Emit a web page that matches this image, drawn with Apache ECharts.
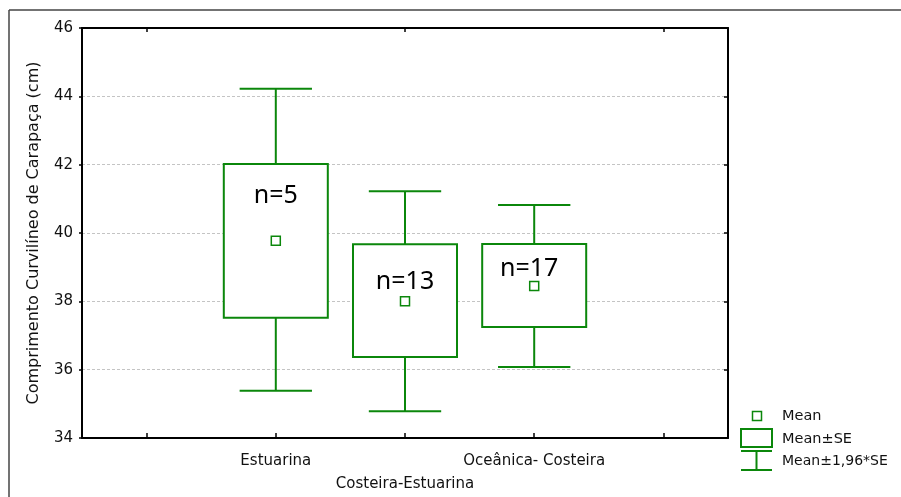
<!DOCTYPE html>
<html>
<head>
<meta charset="utf-8">
<script src="https://cdn.jsdelivr.net/npm/echarts@6/dist/echarts.min.js"></script>
<style>
  html, body { margin: 0; padding: 0; background: #fff; }
  #chart { width: 901px; height: 497px; }
</style>
</head>
<body>
<div id="chart"></div>
<script>
// Carapace length by habitat group: mean, mean±SE and mean±1.96*SE
const categories = ['', 'Estuarina', 'Costeira-Estuarina', 'Oceânica- Costeira', ''];
const groups = ['Estuarina', 'Costeira-Estuarina', 'Oceânica- Costeira'];
const means = [39.77, 38.0, 38.45];
const seLow = [37.52, 36.37, 37.25];
const seHigh = [42.02, 39.67, 39.68];
const ciLow = [35.38, 34.78, 36.08];
const ciHigh = [44.22, 41.22, 40.82];
const nLabels = ['n=5', 'n=13', 'n=17'];
const nLabelY = [41.08, 38.57, 38.95];
const yTicks = [34, 36, 38, 40, 42, 44, 46];

const GREEN = '#0b870b';
const FONT = 'DejaVu Sans';

const chart = echarts.init(document.getElementById('chart'));

const boxData = groups.map((g, i) => [g, ciLow[i], seLow[i], seHigh[i], ciHigh[i]]);

function renderBox(params, api) {
  const x = api.value(0);
  const pLow = api.coord([x, api.value(1)]);
  const pBoxLow = api.coord([x, api.value(2)]);
  const pBoxHigh = api.coord([x, api.value(3)]);
  const pHigh = api.coord([x, api.value(4)]);
  const band = api.size([1, 0])[0];
  const boxW = band * 0.805;
  const capW = band * 0.56;
  const cx = pLow[0];
  const lineStyle = { stroke: GREEN, lineWidth: 2, fill: null };
  return {
    type: 'group',
    children: [
      { type: 'line', shape: { x1: cx, y1: pHigh[1], x2: cx, y2: pBoxHigh[1] }, style: lineStyle },
      { type: 'line', shape: { x1: cx, y1: pLow[1], x2: cx, y2: pBoxLow[1] }, style: lineStyle },
      { type: 'line', shape: { x1: cx - capW / 2, y1: pHigh[1], x2: cx + capW / 2, y2: pHigh[1] }, style: lineStyle },
      { type: 'line', shape: { x1: cx - capW / 2, y1: pLow[1], x2: cx + capW / 2, y2: pLow[1] }, style: lineStyle },
      {
        type: 'rect',
        shape: { x: cx - boxW / 2, y: pBoxHigh[1], width: boxW, height: pBoxLow[1] - pBoxHigh[1] },
        style: { fill: '#fff', stroke: GREEN, lineWidth: 2 }
      }
    ]
  };
}

const option = {
  animation: false,
  backgroundColor: '#fff',
  textStyle: { fontFamily: FONT },
  grid: { left: 82, right: 173, top: 28, bottom: 59, show: false },
  xAxis: [
    {
      type: 'category',
      data: categories,
      position: 'bottom',
      axisLine: { show: true, lineStyle: { color: '#000', width: 2 } },
      axisTick: { show: true, inside: true, alignWithLabel: true, length: 5, lineStyle: { color: '#000', width: 1.5 } },
      axisLabel: {
        interval: 0, margin: 12, color: '#111', fontSize: 15, lineHeight: 23, fontFamily: FONT,
        formatter: (v, i) => (i === 2 ? '\n' + v : v)
      },
      splitLine: { show: false }
    },
    {
      type: 'category',
      data: categories,
      position: 'top',
      axisLine: { show: true, lineStyle: { color: '#000', width: 2 } },
      axisTick: { show: true, inside: true, alignWithLabel: true, length: 4, lineStyle: { color: '#000', width: 1.5 } },
      axisLabel: { show: false },
      splitLine: { show: false }
    }
  ],
  yAxis: [
    {
      type: 'value',
      min: yTicks[0],
      max: yTicks[yTicks.length - 1],
      interval: 2,
      name: 'Comprimento Curvilíneo de Carapaça (cm)',
      nameLocation: 'middle',
      nameGap: 40,
      nameTextStyle: { color: '#111', fontSize: 16, fontFamily: FONT },
      axisLine: { show: true, lineStyle: { color: '#000', width: 2 } },
      axisTick: { show: true, length: 3, lineStyle: { color: '#000', width: 1.5 } },
      axisLabel: { color: '#111', fontSize: 15, margin: 9, fontFamily: FONT },
      splitLine: { show: true, lineStyle: { color: '#c4c4c4', type: [3, 2], width: 1 } }
    },
    {
      type: 'value',
      min: yTicks[0],
      max: yTicks[yTicks.length - 1],
      interval: 2,
      position: 'right',
      axisLine: { show: true, lineStyle: { color: '#000', width: 2 } },
      axisTick: { show: true, inside: true, length: 4, lineStyle: { color: '#000', width: 1.5 } },
      axisLabel: { show: false },
      splitLine: { show: false }
    }
  ],
  series: [
    {
      type: 'custom',
      name: 'Mean±SE',
      renderItem: renderBox,
      data: boxData,
      encode: { x: 0, y: [1, 2, 3, 4] },
      z: 2
    },
    {
      type: 'scatter',
      name: 'Mean',
      data: groups.map((g, i) => [g, means[i]]),
      symbol: 'rect',
      symbolSize: 9,
      itemStyle: { color: '#fff', borderColor: GREEN, borderWidth: 1.5, opacity: 1 },
      z: 4
    },
    {
      type: 'scatter',
      name: 'n',
      data: groups.map((g, i) => ({
        value: [g, nLabelY[i]],
        label: i === 2 ? { offset: [-5, 0] } : {}
      })),
      symbolSize: 0,
      itemStyle: { opacity: 1 },
      label: {
        show: true,
        position: 'inside',
        formatter: (p) => nLabels[p.dataIndex],
        color: '#000',
        fontSize: 25,
        fontFamily: 'Noto Sans'
      },
      z: 5
    }
  ],
  graphic: [
    // outer frame edges
    { type: 'line', shape: { x1: 9, y1: 10, x2: 9, y2: 497 }, style: { stroke: '#444', lineWidth: 1.5 } },
    { type: 'line', shape: { x1: 9, y1: 10, x2: 901, y2: 10 }, style: { stroke: '#444', lineWidth: 1.5 } },
    // legend
    { type: 'rect', shape: { x: 752.5, y: 411.5, width: 9, height: 9 }, style: { fill: '#fff', stroke: GREEN, lineWidth: 1.5 } },
    { type: 'rect', shape: { x: 741, y: 429, width: 31, height: 18 }, style: { fill: '#fff', stroke: GREEN, lineWidth: 2 } },
    { type: 'line', shape: { x1: 741, y1: 451, x2: 772, y2: 451 }, style: { stroke: GREEN, lineWidth: 2 } },
    { type: 'line', shape: { x1: 741, y1: 470, x2: 772, y2: 470 }, style: { stroke: GREEN, lineWidth: 2 } },
    { type: 'line', shape: { x1: 756.5, y1: 451, x2: 756.5, y2: 470 }, style: { stroke: GREEN, lineWidth: 2 } },
    { type: 'text', x: 782, y: 416, style: { text: 'Mean', fill: '#111', font: '14.5px "DejaVu Sans"', textVerticalAlign: 'middle' } },
    { type: 'text', x: 782, y: 439, style: { text: 'Mean±SE', fill: '#111', font: '14.5px "DejaVu Sans"', textVerticalAlign: 'middle' } },
    { type: 'text', x: 782, y: 461, style: { text: 'Mean±1,96*SE', fill: '#111', font: '14px "DejaVu Sans"', textVerticalAlign: 'middle' } }
  ]
};

chart.setOption(option);
</script>
</body>
</html>
